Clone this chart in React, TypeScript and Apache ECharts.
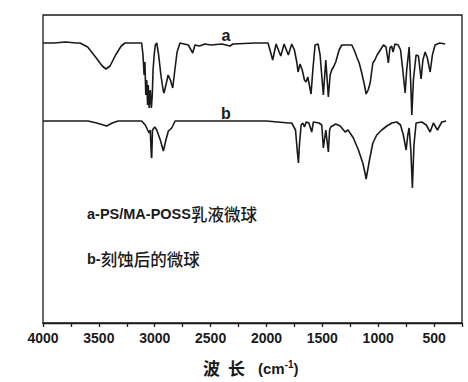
import React, { useEffect, useRef } from "react";
import * as echarts from "echarts";

// Wavenumber (cm^-1) vs. relative transmittance (arbitrary units, curves offset)
const curveA: [number, number][] = [
  [4000, 280], [3900, 280], [3800, 281], [3700, 280], [3669, 280], [3600, 276], [3530, 266], [3470, 257],
  [3436, 254], [3400, 257], [3350, 268], [3300, 277], [3266, 280], [3200, 280], [3117, 280],
  [3105, 268], [3095, 248], [3088, 261], [3080, 228], [3072, 243], [3064, 218], [3058, 238],
  [3050, 215], [3040, 233], [3030, 215], [3022, 228], [3015, 253], [3005, 268], [2995, 278],
  [2982, 280], [2965, 268], [2945, 248], [2925, 233], [2917, 230], [2900, 238], [2880, 248],
  [2860, 243], [2839, 235], [2820, 253], [2800, 271], [2774, 280], [2700, 278], [2660, 270],
  [2640, 278], [2600, 277], [2550, 279], [2500, 278], [2400, 279], [2326, 277], [2300, 279],
  [2100, 280], [2000, 280], [1986, 280], [1944, 263], [1914, 279], [1872, 267], [1842, 279],
  [1804, 268], [1774, 279], [1750, 273], [1729, 261], [1717, 251], [1700, 259], [1680, 253],
  [1660, 243], [1646, 241], [1630, 246], [1601, 229], [1585, 253], [1565, 278], [1538, 279],
  [1520, 268], [1491, 228], [1469, 263], [1446, 226], [1430, 248], [1416, 253], [1400, 256],
  [1380, 261], [1350, 273], [1326, 278], [1280, 278], [1236, 278], [1215, 273], [1192, 266],
  [1170, 260], [1147, 250], [1125, 239], [1108, 229], [1090, 233], [1072, 240], [1048, 260],
  [1030, 263], [1010, 268], [998, 270], [953, 278], [930, 276], [909, 260], [895, 275],
  [880, 277], [867, 271], [850, 279], [820, 278], [800, 273], [780, 253], [759, 230],
  [745, 253], [723, 276], [710, 243], [699, 208], [685, 243], [661, 268], [640, 267],
  [616, 244], [600, 263], [580, 271], [560, 265], [535, 251], [515, 268], [491, 278],
  [450, 280], [400, 279],
];

const curveB: [number, number][] = [
  [4000, 202], [3850, 202], [3700, 202], [3597, 202], [3520, 200], [3430, 197], [3380, 200],
  [3328, 202], [3200, 202], [3117, 202], [3085, 198], [3072, 195], [3051, 190], [3040, 193],
  [3030, 166], [3027, 165], [3020, 193], [3000, 196], [2982, 193], [2950, 183], [2923, 172],
  [2900, 183], [2878, 192], [2848, 195], [2818, 202], [2500, 202], [2200, 202], [2000, 202],
  [1900, 201], [1800, 200], [1774, 200], [1740, 193], [1725, 173], [1714, 160], [1705, 178],
  [1690, 198], [1675, 200], [1660, 196], [1645, 201], [1620, 200], [1595, 191], [1580, 201],
  [1530, 200], [1505, 198], [1491, 175], [1475, 188], [1469, 193], [1446, 171], [1435, 193],
  [1425, 196], [1380, 199], [1340, 197], [1296, 191], [1270, 193], [1222, 185], [1177, 173],
  [1138, 160], [1120, 151], [1108, 144], [1078, 163], [1048, 180], [1013, 188], [968, 193],
  [923, 197], [878, 200], [834, 201], [800, 198], [775, 188], [750, 173], [735, 188],
  [723, 195], [708, 173], [694, 135], [680, 178], [661, 200], [610, 201], [570, 198],
  [535, 191], [506, 200], [470, 193], [431, 201], [392, 202],
];

const xTickLabels = [4000, 3500, 3000, 2500, 2000, 1500, 1000, 500];
const curveLabels = ["a", "b"];
const legendLines = [
  ["a-PS/MA-POSS", "乳液微球"],
  ["b-", "刻蚀后的微球"],
];
const axisTitle = ["波", "长", "(cm", "-1", ")"];

export default function App() {
  const ref = useRef<HTMLDivElement>(null);
  useEffect(() => {
    if (!ref.current) return;
    const chart = echarts.init(ref.current, null, { renderer: "svg" });
    const ink = "#1a1a1a";
    const latin = "'Liberation Sans', Arial, sans-serif";
    const cjk = "'Noto Sans CJK SC', sans-serif";
    chart.setOption({
      animation: false,
      backgroundColor: "#ffffff",
      grid: {
        left: 43,
        right: 6,
        top: 15,
        bottom: 59,
        show: true,
        borderColor: ink,
        borderWidth: 1.3,
        backgroundColor: "transparent",
      },
      xAxis: {
        type: "value",
        inverse: true,
        min: 250,
        max: 4000,
        interval: 250,
        axisLine: { show: true, lineStyle: { color: ink, width: 1.3 } },
        axisTick: { show: true, inside: false, length: 4, lineStyle: { color: ink, width: 1.3 } },
        splitLine: { show: false },
        axisLabel: {
          color: ink,
          fontFamily: latin,
          fontWeight: "bold",
          fontSize: 14,
          margin: 8,
          formatter: (v: number) => (xTickLabels.includes(v) ? String(v) : ""),
        },
      },
      yAxis: {
        type: "value",
        min: 0,
        max: 308,
        show: false,
      },
      series: [
        {
          type: "line",
          data: curveA,
          showSymbol: false,
          lineStyle: { color: ink, width: 1.6 },
        },
        {
          type: "line",
          data: curveB,
          showSymbol: false,
          lineStyle: { color: ink, width: 1.6 },
        },
      ],
      graphic: [
        {
          type: "text",
          x: 226,
          y: 35,
          style: {
            text: curveLabels[0],
            font: `bold 16px ${latin}`,
            fill: ink,
            textAlign: "center",
            textVerticalAlign: "middle",
          },
        },
        {
          type: "text",
          x: 226,
          y: 113,
          style: {
            text: curveLabels[1],
            font: `bold 16px ${latin}`,
            fill: ink,
            textAlign: "center",
            textVerticalAlign: "middle",
          },
        },
        ...legendLines.map((ln, i) => ({
          type: "text",
          x: 87,
          y: i === 0 ? 214 : 259,
          style: {
            text: `{l|${ln[0]}}{c|${ln[1]}}`,
            textVerticalAlign: "middle",
            rich: {
              l: { fontFamily: latin, fontWeight: "bold", fontSize: 14.5, fill: ink, color: ink },
              c: { fontFamily: cjk, fontWeight: 500, fontSize: 16.5, fill: ink, color: ink },
            },
          },
        })),
        {
          type: "text",
          x: 203,
          y: 367,
          style: {
            text: axisTitle[0],
            font: `bold 17px ${cjk}`,
            fill: ink,
            textVerticalAlign: "middle",
          },
        },
        {
          type: "text",
          x: 228,
          y: 367,
          style: {
            text: axisTitle[1],
            font: `bold 17px ${cjk}`,
            fill: ink,
            textVerticalAlign: "middle",
          },
        },
        {
          type: "text",
          x: 258,
          y: 368,
          style: {
            text: `{l|${axisTitle[2]}}{u|${axisTitle[3]}}{l|${axisTitle[4]}}`,
            textVerticalAlign: "middle",
            rich: {
              l: { fontFamily: latin, fontWeight: "bold", fontSize: 15, fill: ink, color: ink },
              u: { fontFamily: latin, fontWeight: "bold", fontSize: 10, fill: ink, color: ink, verticalAlign: "top", padding: [0, 0, 8, 0] },
            },
          },
        },
      ],
    });
    return () => chart.dispose();
  }, []);
  return <div ref={ref} style={{ width: 468, height: 382, position: "fixed", left: 0, top: 0 }} />;
}
